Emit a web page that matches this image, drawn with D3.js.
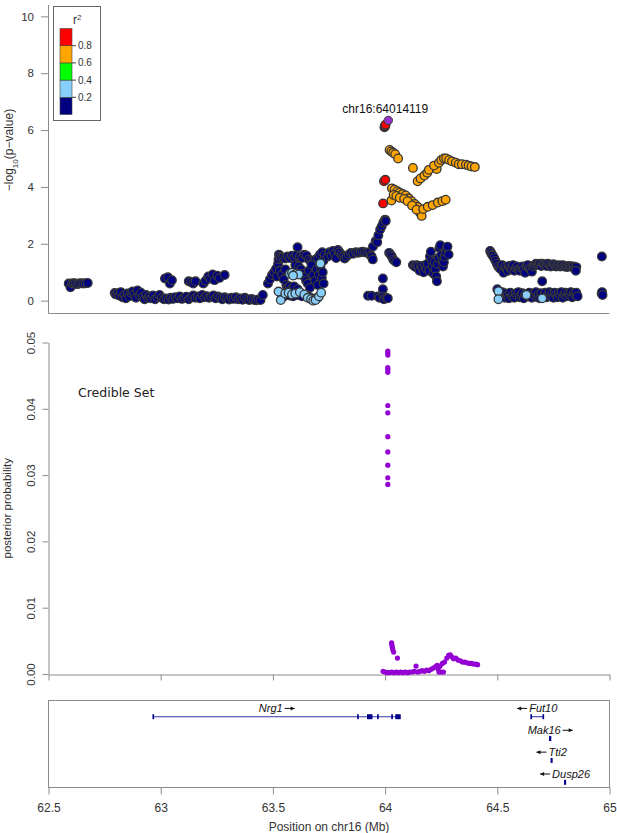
<!DOCTYPE html>
<html><head><meta charset="utf-8">
<script src="https://cdn.jsdelivr.net/npm/d3@7"></script>
<style>
body{margin:0;background:#fff;}
svg{display:block;font-family:"Liberation Sans",Arial,sans-serif;}
</style></head>
<body>
<svg id="c" width="617" height="833"></svg>
<script>
// ---------- DATA ----------
// top panel: [position Mb, -log10 p, r2]
const navyPts = [
 [62.590,0.60,0.1],[62.598,0.47,0.1],[62.605,0.60,0.1],[62.612,0.61,0.1],[62.620,0.60,0.1],[62.628,0.58,0.1],[62.636,0.60,0.1],[62.645,0.61,0.1],[62.655,0.60,0.1],[62.665,0.61,0.1],[62.675,0.62,0.1],
 [62.795,0.27,0.1],[62.800,0.22,0.1],[62.808,0.25,0.1],[62.815,0.18,0.1],[62.822,0.30,0.1],[62.830,0.12,0.1],[62.838,0.20,0.1],[62.845,0.08,0.1],[62.852,0.25,0.1],[62.860,0.15,0.1],[62.868,0.28,0.1],[62.875,0.32,0.1],[62.882,0.22,0.1],[62.890,0.10,0.1],[62.897,0.36,0.1],[62.905,0.18,0.1],[62.912,0.28,0.1],[62.920,0.12,0.1],[62.928,0.05,0.1],[62.935,0.20,0.1],[62.943,0.10,0.1],[62.950,0.15,0.1],[62.958,0.08,0.1],[62.966,0.18,0.1],[62.975,0.05,0.1],[62.985,0.12,0.1],[62.995,0.20,0.1],[63.005,0.10,0.1],[63.015,0.05,0.1],[63.025,0.08,0.1],[63.035,0.04,0.1],[63.045,0.10,0.1],[63.055,0.06,0.1],[63.065,0.12,0.1],[63.075,0.08,0.1],[63.085,0.15,0.1],[63.095,0.06,0.1],[63.105,0.10,0.1],[63.115,0.14,0.1],[63.125,0.05,0.1],[63.135,0.12,0.1],[63.145,0.18,0.1],[63.155,0.10,0.1],[63.165,0.15,0.1],[63.175,0.08,0.1],[63.185,0.20,0.1],[63.195,0.12,0.1],[63.205,0.16,0.1],[63.215,0.10,0.1],[63.225,0.14,0.1],[63.235,0.18,0.1],[63.245,0.08,0.1],[63.255,0.15,0.1],[63.265,0.10,0.1],[63.275,0.05,0.1],[63.285,0.12,0.1],[63.295,0.08,0.1],[63.305,0.04,0.1],[63.315,0.10,0.1],[63.325,0.06,0.1],[63.335,0.12,0.1],[63.345,0.05,0.1],[63.355,0.08,0.1],[63.365,0.03,0.1],[63.375,0.10,0.1],[63.385,0.05,0.1],[63.395,0.02,0.1],[63.405,0.06,0.1],[63.415,0.03,0.1],[63.425,0.01,0.1],[63.435,0.04,0.1],[63.445,0.02,0.1],[63.455,0.20,0.1],
 [63.019,0.78,0.1],[63.032,0.82,0.1],[63.041,0.60,0.1],[63.050,0.72,0.1],
 [63.125,0.68,0.1],[63.135,0.65,0.1],[63.145,0.60,0.1],[63.155,0.68,0.1],
 [63.190,0.60,0.1],[63.200,0.70,0.1],[63.212,0.85,0.1],[63.220,0.78,0.1],[63.232,0.92,0.1],[63.240,0.72,0.1],[63.252,0.88,0.1],[63.262,0.80,0.1],[63.285,0.90,0.1],
 [63.478,0.60,0.1],[63.487,0.75,0.1],[63.496,0.90,0.1],[63.505,1.00,0.1],[63.514,1.12,0.1],[63.518,0.85,0.1],
 [63.523,1.30,0.1],[63.525,1.45,0.1],[63.527,1.62,0.1],[63.530,1.55,0.1],
 [63.535,1.50,0.1],[63.545,1.52,0.1],[63.555,1.48,0.1],[63.565,1.55,0.1],[63.575,1.50,0.1],[63.585,1.58,0.1],[63.595,1.52,0.1],[63.605,1.60,0.1],[63.610,1.88,0.1],[63.620,1.55,0.1],[63.630,1.50,0.1],[63.640,1.62,0.1],[63.650,1.58,0.1],[63.660,1.45,0.1],[63.670,1.40,0.1],[63.680,1.35,0.1],[63.690,1.45,0.1],[63.700,1.50,0.1],[63.710,1.62,0.1],[63.720,1.70,0.1],[63.730,1.60,0.1],
 [63.530,1.05,0.1],[63.540,0.90,0.1],[63.548,0.75,0.1],[63.555,1.10,0.1],[63.560,0.55,0.1],[63.565,0.45,0.1],[63.575,0.50,0.1],[63.585,0.42,0.1],[63.595,0.50,0.1],[63.600,1.25,0.1],[63.610,0.40,0.1],[63.615,1.20,0.1],[63.625,1.10,0.1],[63.632,0.95,0.1],[63.640,0.85,0.1],[63.648,0.70,0.1],[63.655,0.60,0.1],[63.660,1.05,0.1],[63.665,0.45,0.1],[63.672,1.25,0.1],[63.680,0.90,0.1],[63.688,0.70,0.1],[63.695,1.10,0.1],[63.700,0.55,0.1],[63.705,0.90,0.1],[63.712,1.20,0.1],[63.718,0.80,0.1],[63.722,1.00,0.1],[63.726,0.60,0.1],[63.725,1.40,0.1],
 [63.540,0.20,0.1],[63.550,0.15,0.1],[63.560,0.30,0.1],[63.575,0.18,0.1],[63.590,0.15,0.1],[63.610,0.20,0.1],[63.630,0.15,0.1],[63.650,0.20,0.1],[63.665,0.12,0.1],[63.690,0.08,0.1],[63.700,0.10,0.1],
 [63.745,1.55,0.1],[63.752,1.70,0.1],[63.760,1.60,0.1],[63.768,1.75,0.1],[63.775,1.65,0.1],[63.782,1.50,0.1],[63.790,1.78,0.1],[63.797,1.70,0.1],[63.805,1.62,0.1],[63.812,1.55,0.1],[63.820,1.48,0.1],[63.828,1.55,0.1],[63.838,1.62,0.1],[63.848,1.68,0.1],[63.858,1.65,0.1],
 [63.870,1.70,0.1],[63.880,1.68,0.1],[63.890,1.70,0.1],[63.900,1.72,0.1],[63.910,1.70,0.1],[63.920,1.68,0.1],[63.930,1.70,0.1],[63.935,1.60,0.1],[63.940,1.55,0.1],[63.945,1.45,0.1],
 [63.946,1.90,0.1],[63.958,2.10,0.1],[63.965,2.05,0.1],[63.970,2.30,0.1],[63.978,2.50,0.1],[63.985,2.62,0.1],[63.992,2.75,0.1],[64.000,2.85,0.1],[64.003,2.80,0.1],
 [64.018,1.68,0.1],[64.024,1.62,0.1],[64.030,1.55,0.1],[64.036,1.45,0.1],[64.042,1.40,0.1],[64.050,1.35,0.1],
 [63.924,0.17,0.1],[63.940,0.17,0.1],[63.968,0.15,0.1],[63.975,0.10,0.1],[63.990,0.78,0.1],[63.990,0.40,0.1],[63.992,0.15,0.1],[63.995,0.05,0.1],[64.005,0.10,0.1],[64.012,0.08,0.1],
 [64.124,1.25,0.1],[64.130,1.22,0.1],[64.136,1.18,0.1],[64.142,1.25,0.1],[64.148,1.20,0.1],[64.154,1.05,0.1],[64.160,1.22,0.1],[64.166,1.15,0.1],[64.172,1.00,0.1],[64.178,1.25,0.1],[64.184,1.12,0.1],[64.190,1.30,0.1],[64.196,1.05,0.1],[64.200,1.55,0.1],[64.204,1.72,0.1],[64.208,1.40,0.1],[64.212,1.20,0.1],[64.216,0.95,0.1],[64.220,1.35,0.1],[64.224,1.10,0.1],[64.228,0.85,0.1],[64.231,0.68,0.1],[64.234,1.30,0.1],[64.238,1.50,0.1],[64.242,1.85,0.1],[64.246,1.95,0.1],[64.250,1.60,0.1],[64.254,1.40,0.1],[64.258,1.20,0.1],[64.262,1.35,0.1],[64.266,1.55,0.1],[64.270,1.70,0.1],[64.274,1.85,0.1],[64.278,1.90,0.1],[64.283,1.62,0.1],
 [64.468,1.75,0.1],[64.472,1.68,0.1],[64.476,1.62,0.1],[64.480,1.58,0.1],[64.486,1.50,0.1],[64.492,1.40,0.1],[64.498,1.30,0.1],[64.504,1.20,0.1],[64.510,1.15,0.1],[64.516,1.10,0.1],[64.522,1.25,0.1],[64.528,0.98,0.1],[64.534,1.18,0.1],[64.540,1.12,0.1],[64.546,1.05,0.1],[64.552,1.22,0.1],[64.558,1.15,0.1],[64.564,1.10,0.1],[64.570,1.25,0.1],[64.576,1.05,0.1],[64.582,1.15,0.1],[64.588,1.20,0.1],[64.594,1.10,0.1],[64.600,1.05,0.1],[64.606,1.15,0.1],[64.612,1.20,0.1],[64.618,1.10,0.1],[64.624,0.98,0.1],[64.630,1.22,0.1],[64.636,1.25,0.1],[64.642,1.15,0.1],[64.648,1.10,0.1],[64.654,1.02,0.1],[64.660,1.20,0.1],[64.666,1.25,0.1],[64.672,1.30,0.1],[64.678,1.28,0.1],[64.684,1.25,0.1],[64.690,1.30,0.1],[64.696,1.22,0.1],[64.702,1.30,0.1],[64.708,1.28,0.1],[64.714,1.25,0.1],[64.720,1.22,0.1],[64.726,1.30,0.1],[64.732,1.25,0.1],[64.738,1.20,0.1],[64.744,1.22,0.1],[64.750,1.28,0.1],[64.756,1.25,0.1],[64.762,1.20,0.1],[64.768,1.22,0.1],[64.774,1.25,0.1],[64.780,1.20,0.1],[64.786,1.22,0.1],[64.792,1.25,0.1],[64.798,1.20,0.1],[64.804,1.22,0.1],[64.810,1.18,0.1],[64.816,1.20,0.1],[64.822,1.22,0.1],[64.828,1.20,0.1],[64.834,1.18,0.1],[64.840,1.20,0.1],[64.846,1.15,0.1],[64.852,1.18,0.1],[64.850,1.05,0.1],[64.700,0.68,0.1],
 [64.500,0.40,0.1],[64.510,0.25,0.1],[64.516,0.15,0.1],[64.522,0.30,0.1],[64.528,0.20,0.1],[64.534,0.10,0.1],[64.540,0.25,0.1],[64.546,0.18,0.1],[64.552,0.08,0.1],[64.558,0.28,0.1],[64.564,0.15,0.1],[64.570,0.22,0.1],[64.576,0.10,0.1],[64.582,0.25,0.1],[64.588,0.18,0.1],[64.594,0.30,0.1],[64.600,0.12,0.1],[64.606,0.20,0.1],[64.612,0.26,0.1],[64.618,0.08,0.1],[64.624,0.22,0.1],[64.636,0.15,0.1],[64.642,0.28,0.1],[64.648,0.20,0.1],[64.654,0.10,0.1],[64.660,0.25,0.1],[64.666,0.18,0.1],[64.672,0.30,0.1],[64.678,0.12,0.1],[64.684,0.22,0.1],[64.690,0.08,0.1],[64.696,0.26,0.1],[64.708,0.18,0.1],[64.714,0.28,0.1],[64.720,0.12,0.1],[64.726,0.22,0.1],[64.732,0.30,0.1],[64.738,0.15,0.1],[64.744,0.25,0.1],[64.750,0.10,0.1],[64.756,0.28,0.1],[64.762,0.20,0.1],[64.768,0.12,0.1],[64.774,0.26,0.1],[64.780,0.18,0.1],[64.786,0.30,0.1],[64.792,0.10,0.1],[64.798,0.22,0.1],[64.804,0.28,0.1],[64.810,0.15,0.1],[64.816,0.25,0.1],[64.822,0.20,0.1],[64.828,0.30,0.1],[64.834,0.12,0.1],[64.840,0.26,0.1],[64.846,0.20,0.1],[64.852,0.28,0.1],[64.858,0.15,0.1],
 [64.966,1.55,0.1],[64.965,0.25,0.1],[64.967,0.30,0.1],[64.969,0.20,0.1]
];
const bluePts = [
 [63.575,0.95,0.3],[63.585,0.98,0.3],[63.595,0.90,0.3],[63.605,0.95,0.3],[63.615,0.92,0.3],[63.590,0.88,0.3],
 [63.525,0.32,0.3],[63.535,0.02,0.3],[63.555,0.25,0.3],[63.570,0.28,0.3],[63.585,0.22,0.3],[63.600,0.25,0.3],[63.620,0.30,0.3],[63.640,0.22,0.3],[63.655,0.10,0.3],[63.670,0.05,0.3],[63.680,0.00,0.3],[63.690,0.02,0.3],[63.705,0.15,0.3],[63.715,0.28,0.3],[63.712,1.31,0.3],
 [64.505,0.33,0.3],[64.505,0.05,0.3],[64.630,0.20,0.3],[64.700,0.08,0.3]
];
const orangePts = [
 [64.020,5.30,0.7],[64.028,5.25,0.7],[64.036,5.20,0.7],[64.045,5.15,0.7],[64.058,5.00,0.7],
 [64.028,3.52,0.7],
 [64.030,3.95,0.7],[64.042,3.90,0.7],[64.055,3.85,0.7],[64.065,3.80,0.7],[64.078,3.75,0.7],[64.092,3.70,0.7],[64.105,3.60,0.7],[64.118,3.50,0.7],[64.132,3.40,0.7],[64.145,3.30,0.7],[64.155,3.10,0.7],[64.163,2.98,0.7],
 [64.038,3.72,0.7],[64.050,3.68,0.7],[64.065,3.62,0.7],[64.085,3.58,0.7],[64.100,3.50,0.7],[64.120,3.35,0.7],[64.140,3.20,0.7],
 [64.170,3.22,0.7],[64.190,3.30,0.7],[64.212,3.36,0.7],[64.235,3.45,0.7],[64.255,3.50,0.7],[64.270,3.55,0.7],
 [64.124,4.67,0.7],
 [64.145,4.20,0.7],[64.158,4.30,0.7],[64.175,4.40,0.7],[64.188,4.50,0.7],[64.195,4.60,0.7],[64.230,4.63,0.7],[64.218,4.75,0.7],[64.240,4.85,0.7],[64.250,4.95,0.7],[64.262,5.00,0.7],[64.272,5.00,0.7],[64.285,4.95,0.7],[64.298,4.90,0.7],[64.315,4.85,0.7],[64.328,4.80,0.7],[64.342,4.80,0.7],[64.360,4.78,0.7],[64.372,4.75,0.7],[64.385,4.72,0.7],[64.400,4.70,0.7]
];
const redPts = [
 [63.995,4.20,0.9],[64.001,4.25,0.9],[63.991,3.42,0.9],
 [63.997,6.10,0.9],[63.999,6.13,0.9],[64.000,6.16,0.9],[64.002,6.19,0.9]
];
const leadSNP = {pos:64.014119, logp:6.34, label:"chr16:64014119"};

// middle panel: [position Mb, posterior probability]
const postPts = [
 [64.012,0.0487],[64.012,0.0484],[64.012,0.0481],[64.012,0.0462],[64.012,0.0459],[64.012,0.0455],[64.012,0.0405],[64.012,0.0394],[64.012,0.0358],[64.012,0.0335],[64.012,0.0315],[64.012,0.0296],[64.012,0.0286],
 [64.029,0.0047],[64.030,0.0044],[64.032,0.0041],[64.034,0.0037],[64.038,0.0033],[64.055,0.0024],
 [63.991,0.0004],[64.000,0.0003],[64.010,0.0002],[64.020,0.0002],[64.030,0.0003],[64.040,0.0002],[64.050,0.0003],[64.060,0.0002],[64.070,0.0003],[64.080,0.0002],[64.090,0.0003],[64.100,0.0002],[64.110,0.0003],[64.120,0.0003],[64.130,0.0004],[64.138,0.0012],[64.145,0.0003],[64.155,0.0004],[64.165,0.0005],[64.175,0.0004],[64.185,0.0006],[64.195,0.0005],[64.205,0.0007],[64.215,0.0009],[64.225,0.0011],[64.232,0.0013],[64.236,0.0008],[64.240,0.0003],[64.250,0.0003],[64.260,0.0003],
 [64.245,0.0012],[64.255,0.0016],[64.265,0.0018],[64.275,0.0024],[64.283,0.0028],[64.290,0.0029],[64.297,0.0026],[64.305,0.0023],[64.315,0.0024],[64.325,0.0021],[64.335,0.0020],[64.345,0.0018],[64.355,0.0018],[64.365,0.0017],[64.375,0.0016],[64.385,0.0016],[64.395,0.0015],[64.405,0.0015],[64.412,0.0014]
];

// genes
const geneNames  = ["Nrg1","Fut10","Mak16","Tti2","Dusp26"];
const geneStart  = [62.967, 64.650, 64.733, 64.740, 64.800];
const geneEnd    = [64.067, 64.706, 64.738, 64.744, 64.804];
const geneStrand = ["+","-","+","-","-"];
const geneRow    = [0,0,1,2,3];
const geneExons  = [
 [[62.966,62.968],[63.878,63.880],[63.922,63.926],[63.930,63.934],[63.938,63.941],[63.967,63.969],[64.030,64.032],[64.048,64.067]],
 [[64.650,64.652],[64.704,64.706]],
 [[64.733,64.738]],
 [[64.740,64.744]],
 [[64.800,64.804]]
];

const xTicks = [62.5, 63, 63.5, 64, 64.5, 65];
const topYTicks = [0, 2, 4, 6, 8, 10];
const midYTicks = [0, 0.01, 0.02, 0.03, 0.04, 0.05];
const r2Breaks = [0, 0.2, 0.4, 0.6, 0.8, 1.0];
const r2Colors = ["#000080", "#87CEFA", "#00FF00", "#FFA500", "#FF0000"];
const r2Labels = ["0.2", "0.4", "0.6", "0.8"];

// ---------- DRAW ----------
const svg = d3.select("#c");
const AX = "#8c8c8c", TXT = "#333";
const x = d3.scaleLinear().domain([62.5, 65]).range([48.5, 609.5]);
const yTop = d3.scaleLinear().domain([-0.4, 10.4]).range([312, 5]);
const yMid = d3.scaleLinear().domain([0, 0.05]).range([674, 342.5]);
const r2Scale = d3.scaleThreshold().domain(r2Breaks.slice(1, 5)).range(r2Colors);

function styleAxis(g) {
  g.selectAll("path.domain").attr("stroke", AX);
  g.selectAll(".tick line").attr("stroke", AX);
  g.selectAll(".tick text").attr("fill", TXT).attr("font-size", 11.5).attr("font-family", "Liberation Sans, Arial, sans-serif");
}

// ---- top panel ----
const gTop = svg.append("g");
gTop.append("path").attr("d", `M48.5,5V313.5H609.5`).attr("fill", "none").attr("stroke", AX);
const ta = gTop.append("g").attr("transform", "translate(48.5,0)")
  .call(d3.axisLeft(yTop).tickValues(topYTicks).tickSize(7.5).tickPadding(7).tickFormat(d3.format("d")));
ta.select("path.domain").remove();
styleAxis(ta);
gTop.append("text").attr("transform", `translate(13,150) rotate(-90)`)
  .attr("text-anchor", "middle").attr("font-size", 12).attr("fill", TXT)
  .html('\u2212log<tspan baseline-shift="sub" font-size="8">10</tspan>(p\u2212value)');

const allTop = [].concat(navyPts, bluePts, orangePts, redPts);
gTop.append("g").selectAll("circle").data(allTop).join("circle")
  .attr("cx", d => x(d[0])).attr("cy", d => yTop(d[1])).attr("r", 4.3)
  .attr("fill", d => r2Scale(d[2])).attr("stroke", "#373737").attr("stroke-width", 1.3);
gTop.append("circle").attr("cx", x(leadSNP.pos)).attr("cy", yTop(leadSNP.logp)).attr("r", 4.2)
  .attr("fill", "#9932CC").attr("stroke", "#3a3a3a").attr("stroke-width", 1);
gTop.append("text").attr("x", x(leadSNP.pos) - 3).attr("y", 112.5).attr("text-anchor", "middle")
  .attr("font-size", 12).attr("fill", "#111").text(leadSNP.label);

// legend
const lg = svg.append("g");
lg.append("rect").attr("x", 53.5).attr("y", 6.5).attr("width", 47).attr("height", 114).attr("fill", "#fff").attr("stroke", "#666");
const barY = d3.scaleLinear().domain([0, 1]).range([114.5, 28.5]);
lg.selectAll("rect.seg").data(r2Colors).join("rect").attr("class", "seg")
  .attr("x", 60).attr("width", 12)
  .attr("y", (d, i) => barY(r2Breaks[i + 1])).attr("height", (d, i) => barY(r2Breaks[i]) - barY(r2Breaks[i + 1]))
  .attr("fill", d => d).attr("stroke", "#444").attr("stroke-width", 0.6);
lg.selectAll("line.lt").data(r2Labels).join("line").attr("class", "lt")
  .attr("x1", 72).attr("x2", 76).attr("y1", d => barY(+d)).attr("y2", d => barY(+d)).attr("stroke", "#444");
lg.selectAll("text.ll").data(r2Labels).join("text").attr("class", "ll")
  .attr("x", 78).attr("y", d => barY(+d) + 3.5).attr("font-size", 10).attr("fill", TXT).text(d => d);
lg.append("text").attr("x", 73).attr("y", 24).attr("font-size", 12).attr("fill", TXT)
  .html('r<tspan baseline-shift="super" font-size="8">2</tspan>');

// ---- middle panel ----
const gMid = svg.append("g");
const ma = gMid.append("g").attr("transform", "translate(48.5,0)")
  .call(d3.axisLeft(yMid).tickValues(midYTicks).tickSize(6).tickSizeOuter(0).tickFormat(d3.format(".2f")));
styleAxis(ma);
ma.selectAll(".tick text").attr("x", null).attr("dy", null).attr("text-anchor", "middle")
  .attr("transform", "translate(-13.5,0) rotate(-90)");
const mx = gMid.append("g").attr("transform", "translate(0,674.5)")
  .call(d3.axisBottom(x).tickValues(xTicks).tickSize(6).tickSizeOuter(0).tickFormat(""));
styleAxis(mx);
gMid.append("text").attr("transform", `translate(11,${yMid(0.025)}) rotate(-90)`)
  .attr("text-anchor", "middle").attr("font-size", 11.5).attr("fill", TXT).text("posterior probability");
gMid.append("text").attr("x", 78).attr("y", 397).attr("font-size", 12.5)
  .attr("font-family", "DejaVu Sans, sans-serif").attr("fill", "#222").text("Credible Set");
gMid.append("g").selectAll("circle").data(postPts).join("circle")
  .attr("cx", d => x(d[0])).attr("cy", d => yMid(d[1])).attr("r", 2.6).attr("fill", "#9400D3");

// ---- gene panel ----
const gGene = svg.append("g");
gGene.append("rect").attr("x", 48.5).attr("y", 700.5).attr("width", 561).attr("height", 87)
  .attr("fill", "none").attr("stroke", AX);
const ga = gGene.append("g").attr("transform", "translate(0,787.5)")
  .call(d3.axisBottom(x).tickValues(xTicks).tickSize(7).tickSizeOuter(0).tickPadding(9).tickFormat(d => String(d)));
ga.select("path.domain").remove();
styleAxis(ga);
ga.selectAll(".tick text").attr("font-size", 12);
gGene.append("text").attr("x", 329).attr("y", 831).attr("text-anchor", "middle")
  .attr("font-size", 12).attr("fill", TXT).text("Position on chr16 (Mb)");

const rowY = d3.scaleLinear().domain([0, 3]).range([716.7, 782.3]);
geneNames.forEach((name, i) => {
  const yy = rowY(geneRow[i]);
  const g = gGene.append("g");
  g.append("line").attr("x1", x(geneStart[i])).attr("x2", x(geneEnd[i])).attr("y1", yy).attr("y2", yy)
    .attr("stroke", "#3434b0").attr("stroke-width", 1.1);
  g.selectAll("rect").data(geneExons[i]).join("rect")
    .attr("x", d => x(d[0]) - 0.6).attr("width", d => Math.max(1.4, x(d[1]) - x(d[0]) + 1.2))
    .attr("y", yy - 2.5).attr("height", 5).attr("fill", "#00008B");
  const mid = (x(geneStart[i]) + x(geneEnd[i])) / 2;
  const t = g.append("text").attr("y", yy - 4.5).attr("font-size", 11).attr("font-style", "italic")
    .attr("fill", "#111").text(name);
  const tw = t.node().getComputedTextLength();
  const aw = 10, gap = 2, total = tw + aw + gap;
  const x0 = mid - total / 2;
  const ay = yy - 8.3;
  let ax1, ax2;
  if (geneStrand[i] === "+") { t.attr("x", x0); ax1 = x0 + tw + gap; ax2 = ax1 + aw; }
  else { t.attr("x", x0 + aw + gap); ax1 = x0 + aw; ax2 = x0; }
  g.append("line").attr("x1", ax1).attr("x2", ax2).attr("y1", ay).attr("y2", ay).attr("stroke", "#111").attr("stroke-width", 1);
  const dir = ax2 > ax1 ? 1 : -1;
  g.append("path").attr("d", `M${ax2},${ay}L${ax2 - dir * 4},${ay - 2}L${ax2 - dir * 4},${ay + 2}Z`).attr("fill", "#111");
});
</script>
</body></html>
